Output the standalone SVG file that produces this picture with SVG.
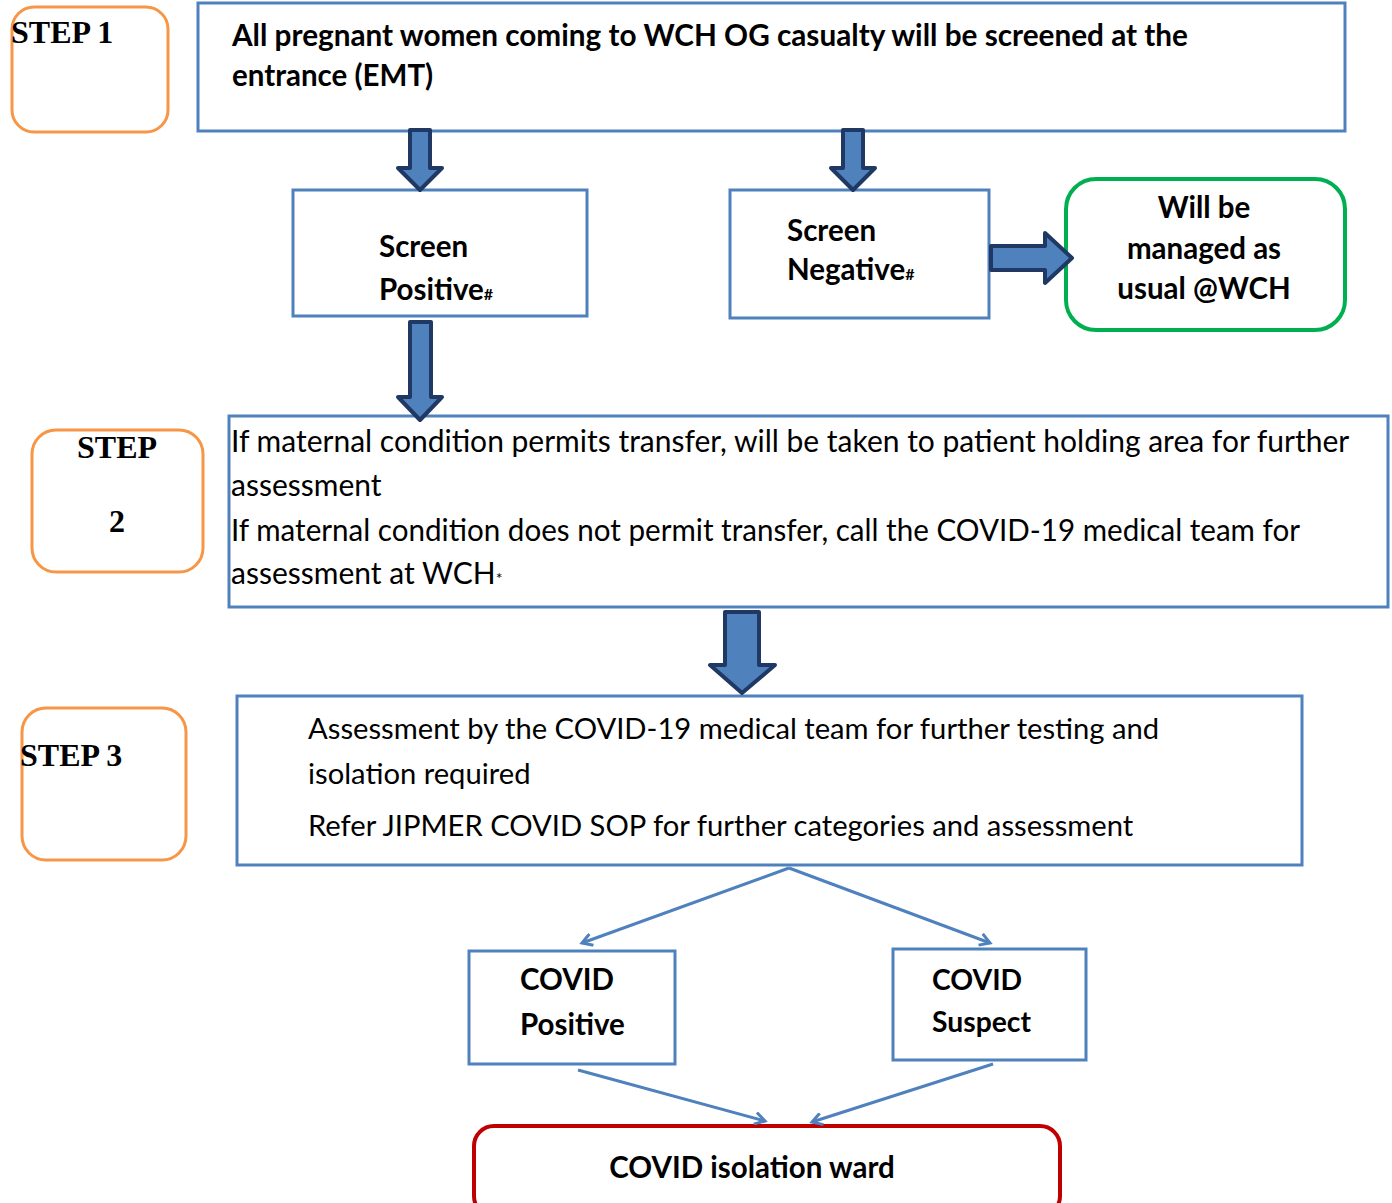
<svg xmlns="http://www.w3.org/2000/svg" width="1392" height="1203" viewBox="0 0 1392 1203">
<style>
.box{fill:#fff;stroke:#4F81BD;stroke-width:3}
.step{fill:#fff;stroke:#F79646;stroke-width:3}
.blk{fill:#4F81BD;stroke:#1F3864;stroke-width:4;stroke-linejoin:round}
.con{fill:none;stroke:#4F81BD;stroke-width:3}
.st{font-family:"Liberation Serif",serif;font-weight:bold;font-size:32px;fill:#000}
.b{font-family:Lato,"Liberation Sans",sans-serif;font-weight:bold;font-size:29.5px;fill:#000}
.b2{font-size:28.3px}
.n{font-family:Lato,"Liberation Sans",sans-serif;font-size:30px;fill:#000}
.n3{font-family:Lato,"Liberation Sans",sans-serif;font-size:29.2px;fill:#000}
.sm{font-size:16px}
</style>
<defs>
<marker id="ah" markerWidth="14" markerHeight="14" refX="11" refY="7" orient="auto" markerUnits="userSpaceOnUse">
<path d="M1,1 L11,7 L1,13" fill="none" stroke="#4F81BD" stroke-width="3"/>
</marker>
</defs>

<g id="step1"><rect class="step" x="12" y="7" width="156" height="125" rx="22"/><text class="st" x="11" y="43">STEP 1</text></g>
<g id="screening"><rect class="box" x="198" y="3" width="1147" height="128"/>
<text class="b" x="232" y="46" textLength="956" lengthAdjust="spacingAndGlyphs">All pregnant women coming to WCH OG casualty will be screened at the</text>
<text class="b" x="232" y="86">entrance (EMT)</text></g>

<g id="screen-positive"><rect class="box" x="293" y="190" width="294" height="126"/>
<text class="b" x="379" y="257">Screen</text>
<text class="b" x="379" y="300">Positive<tspan class="sm">#</tspan></text></g>

<g id="screen-negative"><rect class="box" x="730" y="190" width="259" height="128"/>
<text class="b" x="787" y="241">Screen</text>
<text class="b" x="787" y="280">Negative<tspan class="sm">#</tspan></text></g>

<g id="managed"><rect x="1066" y="179" width="279" height="151" rx="30" fill="#fff" stroke="#00B050" stroke-width="4"/>
<text class="b" text-anchor="middle" x="1204" y="218">Will be</text>
<text class="b" text-anchor="middle" x="1204" y="259">managed as</text>
<text class="b" text-anchor="middle" x="1204" y="299">usual @WCH</text></g>

<g id="step2"><rect class="step" x="32" y="430" width="171" height="142" rx="24"/>
<text class="st" text-anchor="middle" x="117" y="458">STEP</text>
<text class="st" text-anchor="middle" x="117" y="532">2</text></g>

<g id="transfer"><rect class="box" x="229" y="416" width="1159" height="191"/>
<text class="n" x="231" y="452">If maternal condition permits transfer, will be taken to patient holding area for further</text>
<text class="n" x="231" y="496">assessment</text>
<text class="n" x="231" y="541" textLength="1069" lengthAdjust="spacingAndGlyphs">If maternal condition does not permit transfer, call the COVID-19 medical team for</text>
<text class="n" x="231" y="584">assessment at WCH<tspan class="sm">*</tspan></text></g>

<g id="step3"><rect class="step" x="22" y="708" width="164" height="152" rx="24"/>
<text class="st" x="20" y="766">STEP 3</text></g>

<g id="assessment"><rect class="box" x="237" y="696" width="1065" height="169"/>
<text class="n3" x="308" y="739">Assessment by the COVID-19 medical team for further testing and</text>
<text class="n3" x="308" y="784">isolation required</text>
<text class="n3" x="308" y="836">Refer JIPMER COVID SOP for further categories and assessment</text></g>

<g id="covid-positive"><rect class="box" x="469" y="951" width="206" height="113"/>
<text class="b" x="520" y="990">COVID</text>
<text class="b" x="520" y="1035">Positive</text></g>

<g id="covid-suspect"><rect class="box" x="893" y="949" width="193" height="111"/>
<text class="b b2" x="932" y="990">COVID</text>
<text class="b b2" x="932" y="1032">Suspect</text></g>

<g id="isolation"><rect x="474" y="1126" width="586" height="90" rx="20" fill="#fff" stroke="#C00000" stroke-width="4"/>
<text class="b" text-anchor="middle" x="752" y="1178">COVID isolation ward</text></g>

<g id="connectors">
<path class="blk" d="M410,130 L430,130 L430,168 L442,168 L420,190 L398,168 L410,168 Z"/>
<path class="blk" d="M843,130 L863,130 L863,168 L875,168 L853,190 L831,168 L843,168 Z"/>
<path class="blk" d="M991,246 L1045,246 L1045,233 L1072,258 L1045,283 L1045,270 L991,270 Z"/>
<path class="blk" d="M410,322 L431,322 L431,397 L442,397 L420,420 L398,397 L410,397 Z"/>
<path class="blk" d="M725,612 L759,612 L759,665 L775,665 L742,693 L710,665 L725,665 Z"/>
<line class="con" x1="789" y1="868" x2="582" y2="943" marker-end="url(#ah)"/>
<line class="con" x1="789" y1="868" x2="990" y2="943" marker-end="url(#ah)"/>
<line class="con" x1="578" y1="1070" x2="765" y2="1121" marker-end="url(#ah)"/>
<line class="con" x1="993" y1="1064" x2="812" y2="1122" marker-end="url(#ah)"/>
</g>
</svg>
